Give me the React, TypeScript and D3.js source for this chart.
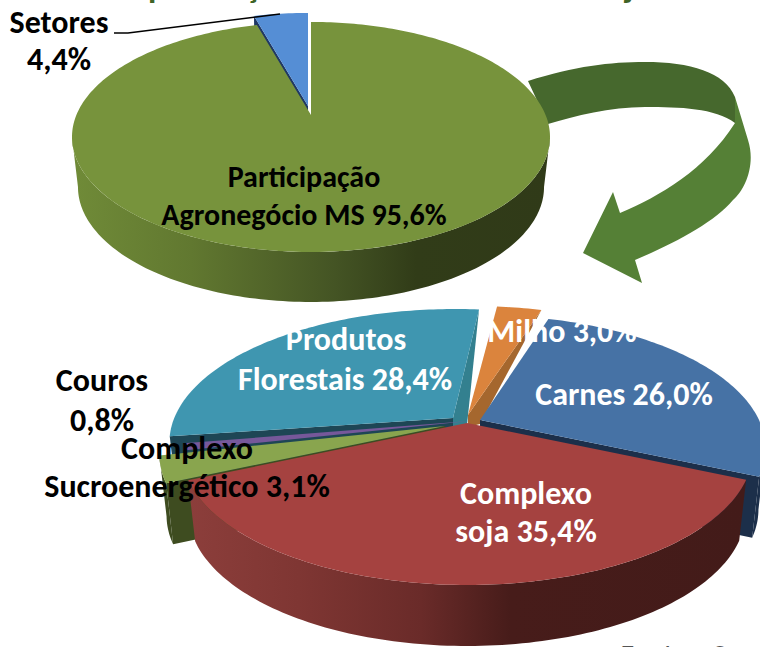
import React from "react";
import * as d3 from "d3";

// ---- data ----
const topNames = ["Agronegócio MS", "Setores"];
const topValues = [95.6, 4.4];
const bottomNames = ["Milho", "Carnes", "Complexo soja", "Complexo Sucroenergético", "Couros", "Produtos Florestais"];
const bottomValues = [3.0, 26.0, 35.4, 3.1, 0.8, 28.4];

// ---- layout ----
const W = 760, H = 647;
type V = [number, number];
type Geo = { cx: number; cy: number; rx: number; ry: number; k: number; sx: number; depth: number; start: number };
const topGeo: Geo = { cx: 311, cy: 115, rx: 234.6, ry: 110.8, k: 0.191, sx: 0.975, depth: 50, start: 0 };
const botGeo: Geo = { cx: 467, cy: 423, rx: 279, ry: 127.4, k: 0.2135, sx: 0.975, depth: 61, start: (6 * Math.PI) / 180 };

type Wall = { fill: string; apex?: V; outer?: V };
type Style = { top: string; explode: V; apexShift?: V; outerFill?: string; startWall?: Wall; endWall?: Wall };

const topStyles: Style[] = [
  { top: "#77933c", explode: [0, 0], outerFill: "url(#wallGreen)" },
  { top: "#558ed5", explode: [-3, -9], startWall: { fill: "#1f3864" } },
];
const botStyles: Style[] = [
  { top: "#db843d", explode: [6, -12], apexShift: [-5, 4], endWall: { fill: "#a5672e", apex: [12, 9], outer: [0, 0] } },
  { top: "#4672a5", explode: [13, -3], outerFill: "#1c2f4a", endWall: { fill: "#1c2f4a" } },
  { top: "#a54240", explode: [0, 0], outerFill: "url(#wallRed)" },
  { top: "#89a54e", explode: [-22, 3], outerFill: "#3e4c20", startWall: { fill: "#3e4c20" } },
  { top: "#76589a", explode: [2, -2] },
  { top: "#3f96b0", explode: [-12, -9], apexShift: [-2, 4], startWall: { fill: "#1e4655" }, endWall: { fill: "#33808f", apex: [14, 7], outer: [0, 0] } },
];
const topOrder = [1, 0];
const botOrder = [5, 0, 4, 3, 1, 2];

const labelFont = "Carlito, Lato, 'Open Sans', sans-serif";
type Label = { text: string; x: number; y: number; fill: string; size: number };
const labels: Label[] = [
  { text: "Setores", x: 59, y: 33, fill: "#000", size: 32 },
  { text: "4,4%", x: 59, y: 70, fill: "#000", size: 32 },
  { text: "Participação", x: 304, y: 187, fill: "#000", size: 30 },
  { text: "Agronegócio MS 95,6%", x: 304, y: 225, fill: "#000", size: 30 },
  { text: "Produtos", x: 346, y: 350, fill: "#fff", size: 32 },
  { text: "Florestais 28,4%", x: 345, y: 390, fill: "#fff", size: 32 },
  { text: "Milho 3,0%", x: 562, y: 342, fill: "#fff", size: 32 },
  { text: "Carnes 26,0%", x: 624, y: 405, fill: "#fff", size: 32 },
  { text: "Complexo", x: 526, y: 504, fill: "#fff", size: 32 },
  { text: "soja 35,4%", x: 526, y: 542, fill: "#fff", size: 32 },
  { text: "Couros", x: 102, y: 391, fill: "#000", size: 32 },
  { text: "0,8%", x: 102, y: 431, fill: "#000", size: 32 },
  { text: "Complexo", x: 187, y: 459, fill: "#000", size: 32 },
  { text: "Sucroenergético 3,1%", x: 187, y: 497, fill: "#000", size: 32 },
];

const line = d3.line<V>();
const closed = (pts: V[]) => line(pts) + "Z";

const project = (g: Geo, theta: number, off: V): V => {
  const u = Math.sin(theta), v = -Math.cos(theta), w = 1 / (1 - g.k * v);
  return [g.cx + off[0] + g.rx * u * w, g.cy + off[1] + g.ry * v * w];
};
const extrude = (g: Geo, p: V, off: V): V => {
  const ox = g.cx + off[0];
  return [ox + (p[0] - ox) * g.sx, p[1] + g.depth];
};
const sampleArc = (a: number, b: number): number[] => {
  const n = Math.max(2, Math.ceil(Math.abs(b - a) / 0.02));
  return d3.range(n + 1).map((i) => a + ((b - a) * i) / n);
};

function slicePaths(g: Geo, values: number[], styles: Style[], order: number[]) {
  const arcs = d3.pie<number>().sort(null).startAngle(g.start).endAngle(g.start + 2 * Math.PI)(values);
  const tangent = Math.acos(-g.k); // where the rim turns from the back to the front
  const out: { d: string; fill: string }[] = [];
  order.forEach((i) => {
    const a = arcs[i], s = styles[i], off = s.explode;
    const shift = s.apexShift ?? [0, 0];
    const apex: V = [g.cx + off[0] + shift[0], g.cy + off[1] + shift[1]];
    const radial = (th: number, wall?: Wall) => {
      if (!wall) return;
      const o = project(g, th, off);
      const oB: V = wall.outer ? [o[0] + wall.outer[0], o[1] + wall.outer[1]] : extrude(g, o, off);
      const aB: V = wall.apex ? [apex[0] + wall.apex[0], apex[1] + wall.apex[1]] : [apex[0], apex[1] + g.depth];
      const foot: V = [apex[0], aB[1] + 3]; // closes the wall under the apex, down to the slice in front
      out.push({ d: closed([apex, o, oB, aB, foot]), fill: wall.fill });
    };
    radial(a.startAngle, s.startWall);
    radial(a.endAngle, s.endWall);
    if (s.outerFill) {
      const from = Math.max(a.startAngle, tangent), to = Math.min(a.endAngle, 2 * Math.PI - tangent);
      if (to > from) {
        const upper = sampleArc(from, to).map((t) => project(g, t, off));
        const lower = upper.map((p) => extrude(g, p, off)).reverse();
        out.push({ d: closed([...upper, ...lower]), fill: s.outerFill });
      }
    }
    const rim = sampleArc(a.startAngle, a.endAngle).map((t) => project(g, t, off));
    out.push({ d: closed([apex, ...rim]), fill: s.top });
  });
  return out;
}

export default function App() {
  const top = slicePaths(topGeo, topValues, topStyles, topOrder);
  const bot = slicePaths(botGeo, bottomValues, botStyles, botOrder);
  return (
    <svg width={W} height={H} viewBox={`0 0 ${W} ${H}`} style={{ position: "absolute", left: 0, top: 0, background: "#fff" }}>
      <defs>
        <linearGradient id="wallGreen" gradientUnits="userSpaceOnUse" x1={72} x2={550} y1={0} y2={0}>
          <stop offset="0" stopColor="#708b38" />
          <stop offset="0.25" stopColor="#617830" />
          <stop offset="0.55" stopColor="#445424" />
          <stop offset="0.72" stopColor="#313c18" />
          <stop offset="1" stopColor="#303a18" />
        </linearGradient>
        <linearGradient id="wallRed" gradientUnits="userSpaceOnUse" x1={187} x2={744} y1={0} y2={0}>
          <stop offset="0" stopColor="#8c3e3b" />
          <stop offset="0.2" stopColor="#7f3633" />
          <stop offset="0.42" stopColor="#6a2b29" />
          <stop offset="0.58" stopColor="#471c1a" />
          <stop offset="1" stopColor="#431b19" />
        </linearGradient>
      </defs>

      {/* clipped title and source at the picture's edges */}
      <g fontFamily={labelFont} fontWeight="bold" fontSize={34} fill="#3f6426">
        <text x={148} y={-2}>p</text>
        <text x={245} y={-2}>ç</text>
        <text x={625} y={-2}>j</text>
      </g>
      <text x={621} y={664} fontFamily={labelFont} fontWeight="bold" fontSize={28} fill="#555" wordSpacing={12}>Fonte: S</text>

      {/* arrow between the pies */}
      <path d="M528,81 C575,66 610,62 645,62 C690,62 725,72 735,97 L735,123 C715,108 680,107 645,107 C610,107 575,116 548,124 Z" fill="#46682d" />
      <path d="M735,97 L748,140 C756,165 745,190 733,200 C715,222 675,243 635,260 L642,283 L583,253 L613,192 L620,213 C660,196 705,170 735,123 Z" fill="#558036" />

      {top.map((p, i) => <path key={i} d={p.d} fill={p.fill} />)}
      {bot.map((p, i) => <path key={i} d={p.d} fill={p.fill} />)}

      <path d="M114,33 L128,33 L280,14" fill="none" stroke="#000" strokeWidth={1.6} />

      <g fontFamily={labelFont} fontWeight="bold" textAnchor="middle">
        {labels.map((l, i) => (
          <text key={i} x={l.x} y={l.y} fill={l.fill} fontSize={l.size}>{l.text}</text>
        ))}
      </g>
    </svg>
  );
}
